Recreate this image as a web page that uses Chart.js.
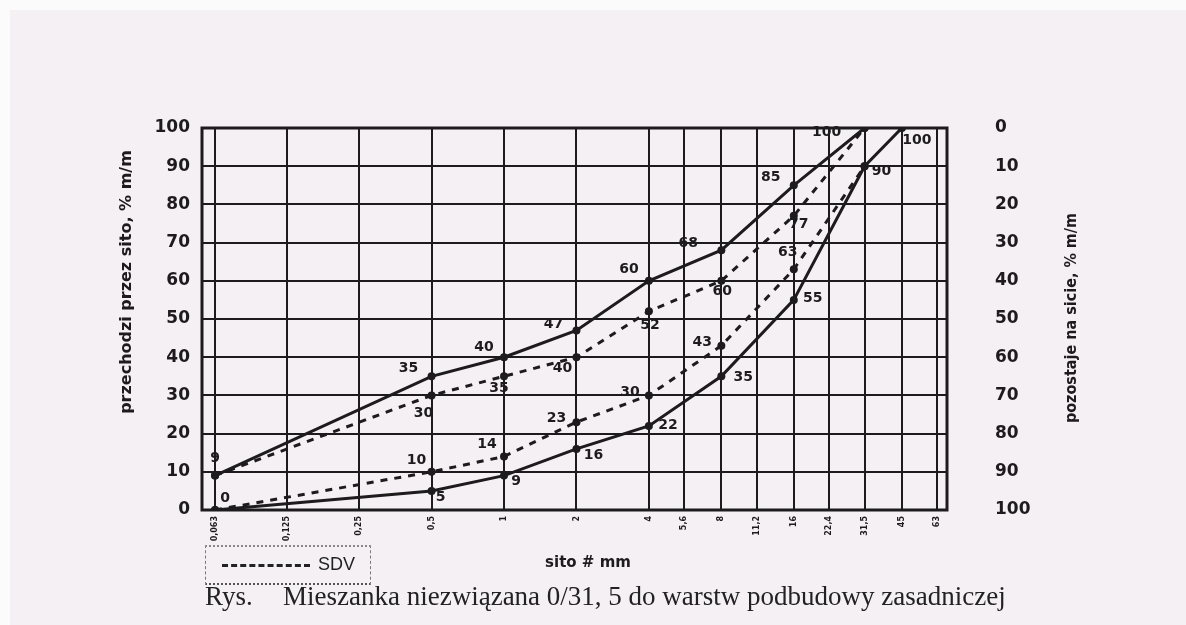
<!DOCTYPE html>
<html lang="pl">
<head>
<meta charset="utf-8">
<title>Mieszanka niezwiązana 0/31,5</title>
<script src="https://cdn.jsdelivr.net/npm/chart.js@4.4.1/dist/chart.umd.min.js"></script>
<style>
  html, body { margin: 0; padding: 0; }
  body { width: 1186px; height: 625px; background: #fcfbfc; position: relative; overflow: hidden; }
  .sheet { position: absolute; left: 10px; top: 10px; right: 0; bottom: 0; background: #f5f0f4; }
  #chart { position: absolute; left: 0; top: 0; }
  .legend { position: absolute; left: 205px; top: 545px; width: 164px; height: 36px;
    border-left: 1px dashed #777; border-right: 1px dashed #777;
    border-top: 2px dotted #888; border-bottom: 2px dotted #555; }
  .legend .sample { position: absolute; left: 16px; top: 17px; width: 88px; border-top: 3px dashed #222; }
  .legend .name { position: absolute; left: 112px; top: 7px; font: 18px "Liberation Sans", Arial, sans-serif; color: #222; }
  .caption { position: absolute; top: 581px; font: 27px "Liberation Serif", "Times New Roman", serif; color: #222; white-space: nowrap; }
</style>
</head>
<body>
<div class="sheet"></div>
<canvas id="chart" width="1186" height="625"></canvas>
<div class="legend"><div class="sample"></div><div class="name">SDV</div></div>
<div class="caption" style="left:205px">Rys.</div>
<div class="caption" style="left:283px">Mieszanka niezwiązana 0/31, 5 do warstw podbudowy zasadniczej</div>
<script>
// sieve sizes shown on the x axis (mm) and their printed labels
const sieveTicks = [0.063, 0.125, 0.25, 0.5, 1, 2, 4, 5.6, 8, 11.2, 16, 22.4, 31.5, 45, 63];
const sieveLabels = ['0,063', '0,125', '0,25', '0,5', '1', '2', '4', '5,6', '8', '11,2', '16', '22,4', '31,5', '45', '63'];

// grading curves - sieve (mm) and passing (% m/m)
const upperSieves = [0.063, 0.5, 1, 2, 4, 8, 16, 31.5];
const upperPassing = [9, 35, 40, 47, 60, 68, 85, 100];

const lowerSieves = [0.063, 0.5, 1, 2, 4, 8, 16, 31.5, 45];
const lowerPassing = [0, 5, 9, 16, 22, 35, 55, 90, 100];

const sdvUpperSieves = [0.063, 0.5, 1, 2, 4, 8, 16, 31.5];
const sdvUpperPassing = [9, 30, 35, 40, 52, 60, 77, 100];

const sdvLowerSieves = [0.063, 0.5, 1, 2, 4, 8, 16, 31.5];
const sdvLowerPassing = [0, 10, 14, 23, 30, 43, 63, 90];

const leftTicks = [0, 10, 20, 30, 40, 50, 60, 70, 80, 90, 100];

const INK = '#1d1b1c';
const BOLD = "'DejaVu Sans', 'Liberation Sans', sans-serif";
const NARROW = "'DejaVu Sans Condensed', 'Liberation Sans Narrow', 'DejaVu Sans', sans-serif";

function toPoints(xs, ys) {
  return xs.map((x, i) => ({ x: x, y: ys[i] }));
}

function curve(xs, ys, dashed, labelOffsets) {
  return {
    data: toPoints(xs, ys),
    borderColor: INK,
    backgroundColor: INK,
    borderWidth: 3,
    borderDash: dashed ? [7, 7] : [],
    pointRadius: 4,
    pointBackgroundColor: INK,
    pointBorderWidth: 0,
    tension: 0,
    labelOffsets: labelOffsets
  };
}

// value labels next to the points (offsets in px, null = no label)
const valueLabels = {
  id: 'valueLabels',
  afterDatasetsDraw(chart) {
    const ctx = chart.ctx;
    ctx.save();
    ctx.font = 'bold 14px ' + BOLD;
    ctx.fillStyle = INK;
    ctx.textAlign = 'center';
    ctx.textBaseline = 'middle';
    chart.data.datasets.forEach((ds, di) => {
      const meta = chart.getDatasetMeta(di);
      meta.data.forEach((pt, i) => {
        const off = ds.labelOffsets[i];
        if (!off) return;
        ctx.fillText(String(ds.data[i].y), pt.x + off[0], pt.y + off[1]);
      });
    });
    ctx.restore();
  }
};

function rotatedText(ctx, text, x, y, font) {
  ctx.save();
  ctx.translate(x, y);
  ctx.rotate(-Math.PI / 2);
  ctx.font = font;
  ctx.textAlign = 'center';
  ctx.textBaseline = 'middle';
  ctx.fillStyle = INK;
  ctx.fillText(text, 0, 0);
  ctx.restore();
}

// plot frame and axis titles
const frame = {
  id: 'frame',
  afterDraw(chart) {
    const { ctx, chartArea: a } = chart;
    ctx.save();
    ctx.strokeStyle = INK;
    ctx.lineWidth = 3;
    ctx.strokeRect(a.left, a.top, a.right - a.left, a.bottom - a.top);
    ctx.font = 'bold 15px ' + BOLD;
    ctx.fillStyle = INK;
    ctx.textAlign = 'center';
    ctx.textBaseline = 'middle';
    ctx.fillText('sito # mm', 588, 563);
    ctx.restore();
    rotatedText(ctx, 'przechodzi przez sito, % m/m', 127, 282, 'bold 16px ' + BOLD);
    rotatedText(ctx, 'pozostaje na sicie, % m/m', 1072, 318, 'bold 16px ' + NARROW);
  }
};

new Chart(document.getElementById('chart'), {
  type: 'line',
  data: {
    datasets: [
      curve(upperSieves, upperPassing, false,
        [[0, -17], [-23, -8], [-20, -10], [-23, -6], [-20, -11], [-33, -7], [-23, -8], [-38, 4]]),
      curve(lowerSieves, lowerPassing, false,
        [[10, -12], [9, 6], [12, 6], [17, 6], [19, -1], [22, 1], [19, -2], [17, 5], [15, 12]]),
      curve(sdvUpperSieves, sdvUpperPassing, true,
        [null, [-8, 18], [-5, 12], [-14, 11], [1, 14], [1, 11], [5, 8], null]),
      curve(sdvLowerSieves, sdvLowerPassing, true,
        [null, [-15, -11], [-17, -12], [-20, -4], [-19, -3], [-19, -3], [-6, -17], null])
    ]
  },
  options: {
    responsive: false,
    animation: false,
    layout: { padding: { left: 114, right: 106, top: 128, bottom: 50 } },
    plugins: { legend: { display: false }, tooltip: { enabled: false } },
    scales: {
      x: {
        type: 'logarithmic',
        min: 0.0556,
        max: 69.3,
        afterBuildTicks: s => { s.ticks = sieveTicks.map(v => ({ value: v })); },
        afterFit: s => { s.height = 65; },
        ticks: {
          autoSkip: false, minRotation: 90, maxRotation: 90, padding: 6,
          color: INK, font: { family: BOLD, size: 8, weight: 'bold' },
          callback: (v, i) => sieveLabels[i]
        },
        grid: { color: INK, lineWidth: 2, drawTicks: false },
        border: { display: false }
      },
      y: {
        position: 'left',
        min: 0,
        max: 100,
        afterBuildTicks: s => { s.ticks = leftTicks.map(v => ({ value: v })); },
        afterFit: s => { s.width = 88; },
        ticks: { padding: 12, color: INK, font: { family: BOLD, size: 17, weight: 'bold' } },
        grid: { color: INK, lineWidth: 2, drawTicks: false },
        border: { display: false }
      },
      y2: {
        position: 'right',
        min: 0,
        max: 100,
        reverse: true,
        afterBuildTicks: s => { s.ticks = leftTicks.map(v => ({ value: v })); },
        afterFit: s => { s.width = 133; },
        ticks: { padding: 48, color: INK, font: { family: BOLD, size: 17, weight: 'bold' } },
        grid: { display: false, drawTicks: false },
        border: { display: false }
      }
    }
  },
  plugins: [valueLabels, frame]
});
</script>
</body>
</html>
